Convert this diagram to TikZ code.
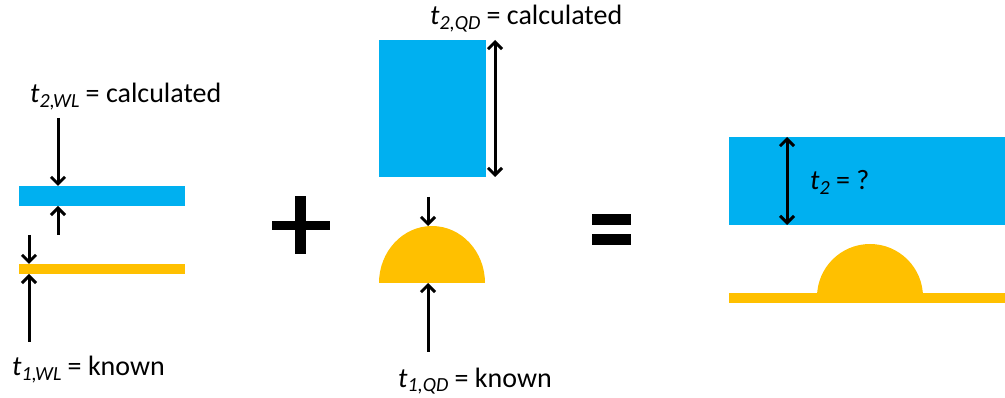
\documentclass[tikz,border=0pt]{standalone}
\usepackage{fontspec}
\setmainfont{Carlito}
\usetikzlibrary{arrows.meta}
\definecolor{myblue}{RGB}{0,176,240}
\definecolor{myorange}{RGB}{255,192,0}
\newcommand{\thick}[1]{\textit{t}\raisebox{-0.3ex}{\fontsize{20}{22}\selectfont\textit{#1}}}

\begin{document}
\begin{tikzpicture}[x=1pt,y=-1pt,
	dim/.style={black,line width=3pt,-{Straight Barb[length=7pt,width=14pt]}},
	dimboth/.style={black,line width=3pt,{Straight Barb[length=7pt,width=14pt]}-{Straight Barb[length=7pt,width=14pt]}},
	lbl/.style={inner sep=0pt,anchor=base west,font=\fontsize{28}{32}\selectfont},
	slab/.style={inner sep=0pt,outer sep=0pt,anchor=north west}]
	\useasboundingbox (0,0) rectangle (1005,398);
	
	%Wetting layer
	\node[slab,fill=myblue,minimum width=166pt,minimum height=20pt] (wlblue) at (19,186) {};
	\node[slab,fill=myorange,minimum width=166pt,minimum height=10pt] (wlorange) at (19,264) {};
	\node[lbl] (wltop) at (30,103) {\thick{2,WL} = calculated};
	\node[lbl] (wlbot) at (12,376) {\thick{1,WL} = known};
	\coordinate (a1) at (58,118);
	\coordinate (a2) at (58,235);
	\coordinate (a3) at (29,235);
	\coordinate (a4) at (29,342);
	\draw[dim] (a1) -- (a1 |- wlblue.north);
	\draw[dim] (a2) -- (a2 |- wlblue.south);
	\draw[dim] (a3) -- (a3 |- wlorange.north);
	\draw[dim] (a4) -- (a4 |- wlorange.south);
	
	%Plus
	\fill (272,221) rectangle (330,230);
	\fill (295,196) rectangle (306,254);
	
	%Quantum dot
	\node[slab,fill=myblue,minimum width=107pt,minimum height=137pt] (qdblue) at (379,40) {};
	\fill[myorange] (379,283) arc[start angle=180,end angle=360,x radius=53,y radius=57] -- cycle;
	\coordinate (qdtop) at (428,226);
	\coordinate (qdbase) at (428,283);
	\node[lbl] (qdup) at (430,25) {\thick{2,QD} = calculated};
	\node[lbl] (qddown) at (398,387) {\thick{1,QD} = known};
	\coordinate (b1) at (495,40);
	\coordinate (b2) at (428,197);
	\coordinate (b3) at (428,352);
	\draw[dimboth] (b1) -- (b1 |- qdblue.south);
	\draw[dim] (b2) -- (qdtop);
	\draw[dim] (b3) -- (qdbase);
	
	%Equals
	\fill (592,214) rectangle (631,225);
	\fill (592,234) rectangle (631,245);
	
	%Result
	\node[slab,fill=myblue,minimum width=276pt,minimum height=88pt] (capblue) at (729,137) {};
	\node[slab,fill=myorange,minimum width=276pt,minimum height=10pt] (caporange) at (729,293) {};
	\fill[myorange] (817,297) arc[start angle=180,end angle=360,radius=53] -- cycle;
	\coordinate (c1) at (787,137);
	\draw[dimboth] (c1) -- (c1 |- capblue.south);
	\node[lbl] (capq) at (810,190) {\thick{2} = ?};
\end{tikzpicture}
\end{document}
